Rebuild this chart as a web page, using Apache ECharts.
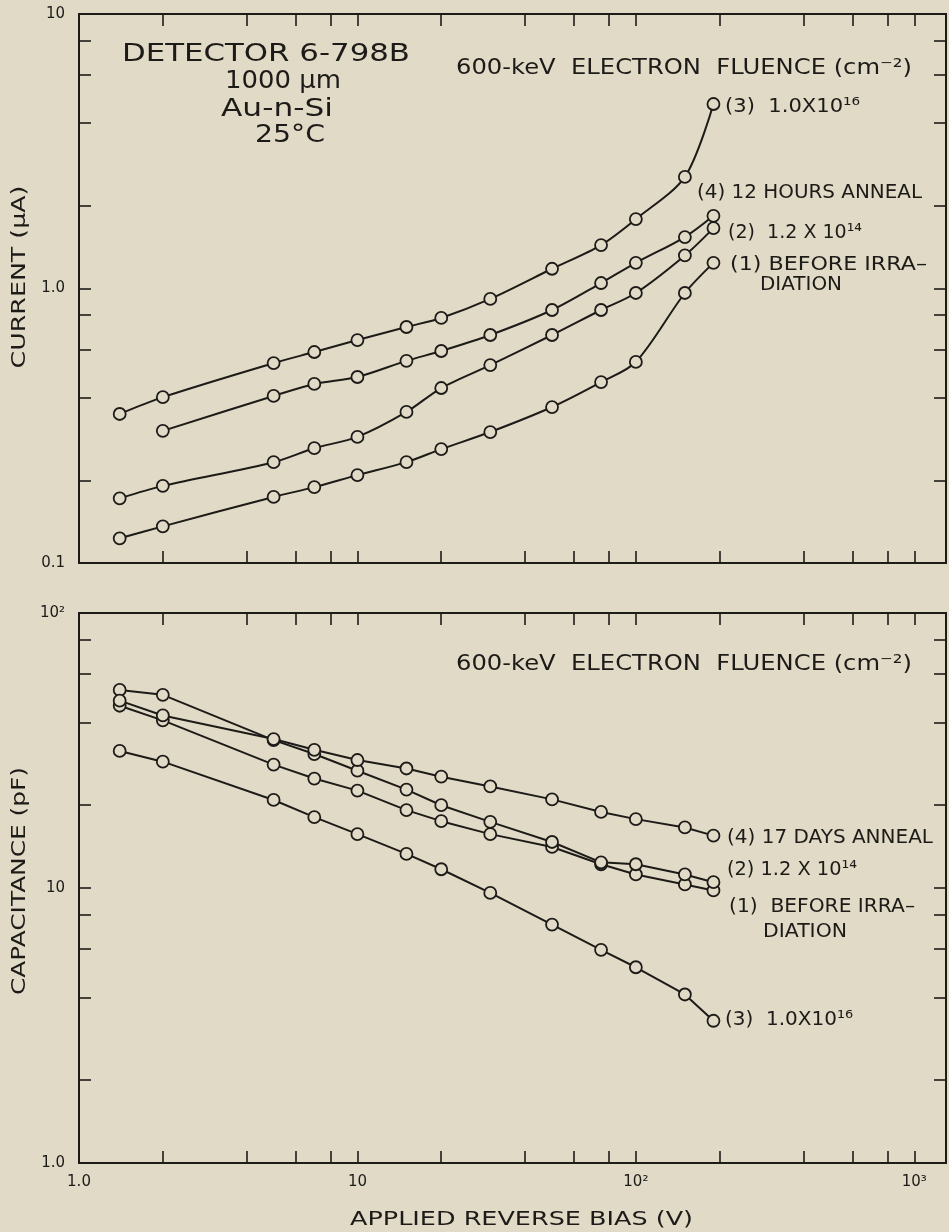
<!DOCTYPE html>
<html><head><meta charset="utf-8">
<script src="https://cdn.jsdelivr.net/npm/echarts@6/dist/echarts.min.js"></script>
<style>html,body{margin:0;padding:0;background:#e1dac7;} #c{width:949px;height:1232px;}</style>
</head><body><div id="c"></div>
<script>
// ---- data ----
const biasV = [1.4, 2, 5, 7, 10, 15, 20, 30, 50, 75, 100, 150, 190];
// current (uA)
const currBefore     = [0.123, 0.136, 0.174, 0.189, 0.209, 0.233, 0.260, 0.300, 0.370, 0.456, 0.540, 0.963, 1.24];
const curr12e14      = [0.172, 0.191, 0.233, 0.262, 0.288, 0.355, 0.434, 0.526, 0.677, 0.835, 0.963, 1.32, 1.66];
const curr1e16       = [0.349, 0.402, 0.535, 0.587, 0.649, 0.724, 0.781, 0.916, 1.18, 1.44, 1.79, 2.55, 4.70];
const curr12hAnneal  = [null, 0.303, 0.406, 0.449, 0.476, 0.545, 0.592, 0.677, 0.835, 1.047, 1.24, 1.54, 1.84];
// capacitance (pF)
const capBefore      = [46.0, 40.7, 28.1, 25.0, 22.6, 19.2, 17.5, 15.7, 14.1, 12.2, 11.2, 10.3, 9.8];
const cap12e14       = [52.5, 50.4, 34.5, 30.7, 26.7, 22.8, 20.0, 17.4, 14.7, 12.4, 12.2, 11.2, 10.5];
const cap1e16        = [31.5, 28.8, 20.9, 18.1, 15.7, 13.3, 11.7, 9.6, 7.36, 5.96, 5.15, 4.10, 3.29];
const cap17dAnneal   = [48.0, 42.4, 34.8, 31.8, 29.2, 27.2, 25.4, 23.4, 21.0, 18.9, 17.8, 16.6, 15.5];

// tick labels
const xTickValues = [1, 10, 100, 1000];
const xTickLabels = ['1.0', '10', '10²', '10³'];
const currTickValues = [0.1, 1, 10];
const currTickLabels = ['0.1', '1.0', '10'];
const capTickValues = [1, 10, 100];
const capTickLabels = ['1.0', '10', '10²'];
const tickMultipliers = [1, 2, 4, 6, 8];

// ---- style ----
const INK = '#1d1b18';
const BG = '#e1dac7';
const FONT = '"DejaVu Sans"';
const X_MAX = 1300;

const L = Math.log10;
function tickList(lo, hi) {
  const out = [];
  for (let k = Math.floor(L(lo)); k <= Math.ceil(L(hi)); k++) {
    tickMultipliers.forEach(m => { const v = m * Math.pow(10, k); if (v > lo * 1.0001 && v < hi * 0.9999) out.push(L(v)); });
  }
  return out;
}
function fmt(values, labels) {
  return function (v) {
    for (let i = 0; i < values.length; i++) if (Math.abs(L(v) - L(values[i])) < 1e-6) return labels[i];
    return '';
  };
}
function tickAxis(gridIndex, position, min, max, values) {
  return {
    type: 'value', gridIndex, position, min, max, silent: true,
    axisLine: { show: false, onZero: false }, splitLine: { show: false }, axisLabel: { show: false },
    axisTick: { show: true, inside: true, length: 12, customValues: values, lineStyle: { color: INK, width: 1.6 } }
  };
}
function logX(gridIndex, showLabels) {
  return {
    type: 'log', logBase: 10, gridIndex, min: 1, max: X_MAX, position: 'bottom',
    axisLine: { show: false, onZero: false }, axisTick: { show: false }, splitLine: { show: false }, minorTick: { show: false },
    axisLabel: { show: showLabels, formatter: fmt(xTickValues, xTickLabels), color: INK, fontSize: 15, fontFamily: FONT, margin: 12, showMinLabel: true, showMaxLabel: true, hideOverlap: false }
  };
}
function logY(gridIndex, min, max, values, labels) {
  return {
    type: 'log', logBase: 10, gridIndex, min, max, position: 'left',
    axisLine: { show: false, onZero: false }, axisTick: { show: false }, splitLine: { show: false }, minorTick: { show: false },
    axisLabel: { show: true, formatter: fmt(values, labels), color: INK, fontSize: 15, fontFamily: FONT, margin: 14, showMinLabel: true, showMaxLabel: true }
  };
}
function makeSeries(name, xIdx, yIdx, ys, smooth) {
  return {
    type: 'line', name, xAxisIndex: xIdx, yAxisIndex: yIdx, smooth,
    data: biasV.map((x, i) => ys[i] == null ? null : [x, ys[i]]).filter(d => d),
    symbol: 'circle', symbolSize: 12, showSymbol: true,
    lineStyle: { color: INK, width: 2 },
    itemStyle: { color: BG, borderColor: INK, borderWidth: 1.8 },
    emphasis: { disabled: true }, z: 3
  };
}

// text annotations: [text, left, right, centerY, fontSize]
const annotations = [
  ['DETECTOR 6-798B', 122, 410, 55, 24],
  ['1000 μm', 225, 341, 82, 24],
  ['Au-n-Si', 221, 333, 110, 24],
  ['25°C', 255, 325, 136, 24],
  ['600-keV  ELECTRON  FLUENCE (cm⁻²)', 456, 912, 69, 21],
  ['(3)  1.0X10¹⁶', 725, 860, 107, 20],
  ['(4) 12 HOURS ANNEAL', 697, 922, 193, 20],
  ['(2)  1.2 X 10¹⁴', 728, 862, 233, 20],
  ['(1) BEFORE IRRA–', 730, 927, 265, 20],
  ['DIATION', 760, 842, 285, 20],
  ['600-keV  ELECTRON  FLUENCE (cm⁻²)', 456, 912, 665, 21],
  ['(4) 17 DAYS ANNEAL', 727, 933, 838, 20],
  ['(2) 1.2 X 10¹⁴', 727, 857, 870, 20],
  ['(1)  BEFORE IRRA–', 729, 915, 907, 20],
  ['DIATION', 763, 847, 932, 20],
  ['(3)  1.0X10¹⁶', 725, 853, 1020, 20],
  ['APPLIED REVERSE BIAS (V)', 350, 693, 1220, 20]
];
// rotated axis titles: [text, centerX, centerY, length, fontSize]
const vTitles = [
  ['CURRENT (μA)', 20, 277, 183, 20],
  ['CAPACITANCE (pF)', 20, 881, 228, 20]
];

const mctx = document.createElement('canvas').getContext('2d');
function measure(text, size) { mctx.font = size + 'px ' + FONT; return mctx.measureText(text).width; }
const graphics = [];
annotations.forEach(([t, l, r, cy, s]) => {
  graphics.push({ type: 'text', x: l, y: cy, scaleX: (r - l) / measure(t, s), silent: true, z: 10,
    style: { text: t, font: s + 'px ' + FONT, fill: INK, align: 'left', verticalAlign: 'middle', textAlign: 'left', textVerticalAlign: 'middle' } });
});
vTitles.forEach(([t, cx, cy, len, s]) => {
  graphics.push({ type: 'text', x: cx, y: cy, rotation: Math.PI / 2, scaleX: len / measure(t, s), silent: true, z: 10,
    style: { text: t, font: s + 'px ' + FONT, fill: INK, align: 'center', verticalAlign: 'middle', textAlign: 'center', textVerticalAlign: 'middle' } });
});

const xTicks = tickList(1, X_MAX);
const option = {
  animation: false,
  backgroundColor: BG,
  grid: [
    { left: 79, top: 14, width: 867, height: 549, show: true, borderColor: INK, borderWidth: 2, backgroundColor: 'transparent' },
    { left: 79, top: 613, width: 867, height: 550, show: true, borderColor: INK, borderWidth: 2, backgroundColor: 'transparent' }
  ],
  xAxis: [
    logX(0, false),
    tickAxis(0, 'bottom', 0, L(X_MAX), xTicks),
    tickAxis(0, 'top', 0, L(X_MAX), xTicks),
    logX(1, true),
    tickAxis(1, 'bottom', 0, L(X_MAX), xTicks),
    tickAxis(1, 'top', 0, L(X_MAX), xTicks)
  ],
  yAxis: [
    logY(0, 0.1, 10, currTickValues, currTickLabels),
    tickAxis(0, 'left', -1, 1, tickList(0.1, 10)),
    tickAxis(0, 'right', -1, 1, tickList(0.1, 10)),
    logY(1, 1, 100, capTickValues, capTickLabels),
    tickAxis(1, 'left', 0, 2, tickList(1, 100)),
    tickAxis(1, 'right', 0, 2, tickList(1, 100))
  ],
  series: [
    makeSeries('(1) before irradiation', 0, 0, currBefore, 0.3),
    makeSeries('(2) 1.2x10^14', 0, 0, curr12e14, 0.3),
    makeSeries('(3) 1.0x10^16', 0, 0, curr1e16, 0.3),
    makeSeries('(4) 12 hours anneal', 0, 0, curr12hAnneal, 0.3),
    makeSeries('(1) before irradiation C', 3, 3, capBefore, false),
    makeSeries('(2) 1.2x10^14 C', 3, 3, cap12e14, false),
    makeSeries('(3) 1.0x10^16 C', 3, 3, cap1e16, false),
    makeSeries('(4) 17 days anneal C', 3, 3, cap17dAnneal, false)
  ],
  graphic: graphics
};
const chart = echarts.init(document.getElementById('c'), null, { renderer: 'canvas' });
chart.setOption(option);
</script>
</body></html>
